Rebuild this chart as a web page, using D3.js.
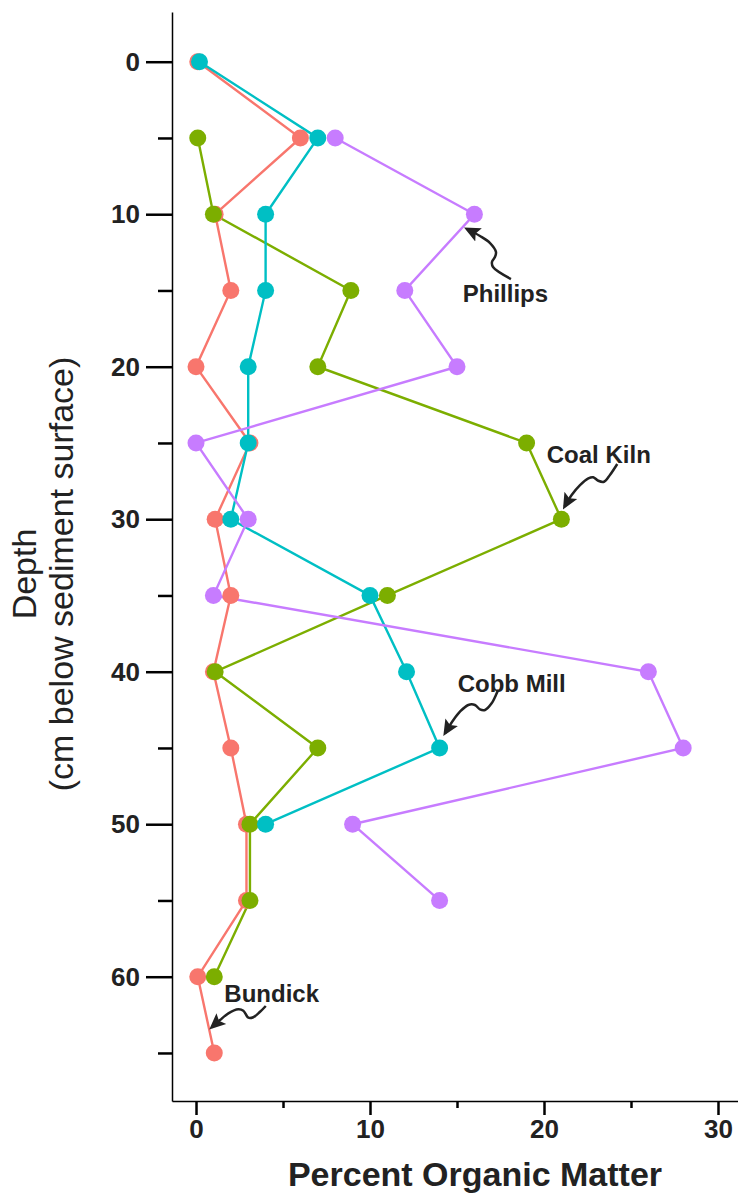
<!DOCTYPE html>
<html>
<head>
<meta charset="utf-8">
<script src="https://cdn.jsdelivr.net/npm/d3@7"></script>
<style>
  body { margin: 0; background: #fff; }
  svg text { font-family: "Liberation Sans", Arial, sans-serif; }
</style>
</head>
<body>
<div id="chart"></div>
<script>
// organic matter down the core, one pair of arrays per site
var sites = ["Bundick", "Coal Kiln", "Cobb Mill", "Phillips"];
var colours = ["#F8766D", "#7CAE00", "#00BFC4", "#C77CFF"];

var bundickDepth = [0, 5, 10, 15, 20, 25, 30, 35, 40, 45, 50, 55, 60, 65];
var bundickOM    = [0.1, 6, 1.1, 2, 0, 3.1, 1.1, 2, 1, 2, 2.9, 2.9, 0.1, 1.05];

var coalKilnDepth = [5, 10, 15, 20, 25, 30, 35, 40, 45, 50, 55, 60];
var coalKilnOM    = [0.1, 1, 8.9, 7, 19, 21, 11, 1.1, 7, 3.1, 3.1, 1.05];

var cobbMillDepth = [0, 5, 10, 15, 20, 25, 30, 35, 40, 45, 50];
var cobbMillOM    = [0.2, 7, 4, 4, 3, 3, 2, 10, 12.1, 14, 4];

var phillipsDepth = [5, 10, 15, 20, 25, 30, 35, 40, 45, 50, 55];
var phillipsOM    = [8, 16, 12, 15, 0, 3, 1, 26, 28, 9, 14];

var xTicks = [0, 10, 20, 30];
var xMinorTicks = [5, 15, 25];
var yTicks = [0, 10, 20, 30, 40, 50, 60];
var yMinorTicks = [5, 15, 25, 35, 45, 55, 65];

// site labels (percent, depth) and their curly arrows
var labelNames = ["Phillips", "Coal Kiln", "Cobb Mill", "Bundick"];
var labelPos = [[15.33, 15.74], [20.16, 26.3], [15.04, 41.31], [1.63, 61.64]];
var arrowPaths = [
  [[18.10, 14.25], [17.07, 13.46], [17.01, 13.13], [17.18, 12.81], [17.24, 12.48], [16.90, 11.89], [16.32, 11.43], [15.57, 10.97]],
  [[24.21, 26.38], [23.79, 27.10], [23.45, 27.54], [23.12, 27.48], [22.83, 27.25], [22.55, 27.32], [22.07, 27.76], [21.59, 28.41], [21.18, 29.18]],
  [[17.37, 41.20], [17.28, 41.42], [16.99, 42.07], [16.61, 42.51], [16.32, 42.47], [16.03, 42.18], [15.65, 42.18], [15.17, 42.62], [14.79, 43.17], [14.31, 44.04]],
  [[4.01, 61.92], [3.68, 62.30], [3.29, 62.66], [3.01, 62.69], [2.72, 62.23], [2.43, 62.14], [1.86, 62.40], [1.38, 62.84], [0.90, 63.32]]
];

var width = 738, height = 1195;
var plot = {left: 172, right: 738, top: 12, bottom: 1101};

var svg = d3.select("#chart").append("svg")
    .attr("width", width)
    .attr("height", height);

var x = d3.scaleLinear()
    .domain([-1.38, 31.15])
    .range([plot.left, plot.right]);

var y = d3.scaleLinear()
    .domain([-3.26, 68.15])
    .range([plot.top, plot.bottom]);

var series = [
  {name: sites[0], colour: colours[0], depth: bundickDepth, om: bundickOM},
  {name: sites[1], colour: colours[1], depth: coalKilnDepth, om: coalKilnOM},
  {name: sites[2], colour: colours[2], depth: cobbMillDepth, om: cobbMillOM},
  {name: sites[3], colour: colours[3], depth: phillipsDepth, om: phillipsOM}
];
series.forEach(s => {
  s.values = s.depth.map((d, i) => ({depth: d, om: s.om[i]}));
});

// axes
var yAxis = d3.axisLeft(y).tickValues(yTicks).tickSize(26).tickSizeOuter(0).tickPadding(6);
var yMinor = d3.axisLeft(y).tickValues(yMinorTicks).tickSize(14).tickFormat("");
var xAxis = d3.axisBottom(x).tickValues(xTicks).tickSize(14).tickSizeOuter(0).tickPadding(5);
var xMinor = d3.axisBottom(x).tickValues(xMinorTicks).tickSize(7).tickFormat("");

function styleAxis(g) {
  g.select(".domain").attr("stroke", "#000").attr("stroke-width", 1.5);
  g.selectAll(".tick line").attr("stroke", "#000").attr("stroke-width", 2.5);
  g.selectAll(".tick text")
    .attr("fill", "#222")
    .style("font-size", "26px")
    .style("font-weight", "bold");
}

svg.append("g")
    .attr("transform", `translate(${plot.left},0)`)
    .call(yAxis)
    .call(styleAxis);
svg.append("g")
    .attr("transform", `translate(${plot.left},0)`)
    .call(yMinor)
    .call(styleAxis)
    .select(".domain").remove();

svg.append("g")
    .attr("transform", `translate(0,${plot.bottom})`)
    .call(xAxis)
    .call(styleAxis);
svg.append("g")
    .attr("transform", `translate(0,${plot.bottom})`)
    .call(xMinor)
    .call(styleAxis)
    .select(".domain").remove();

// axis titles
svg.append("text")
    .attr("x", (x(-1.38) + x(31.15)) / 2 + 20)
    .attr("y", 1186)
    .attr("text-anchor", "middle")
    .attr("fill", "#222")
    .style("font-size", "34px")
    .style("font-weight", "bold")
    .text("Percent Organic Matter");

var yTitle = svg.append("text")
    .attr("transform", "translate(36,574) rotate(-90)")
    .attr("text-anchor", "middle")
    .attr("fill", "#222")
    .style("font-size", "34px");
yTitle.append("tspan").attr("x", 0).attr("dy", 0).text("Depth");
yTitle.append("tspan").attr("x", 0).attr("dy", 37).text("(cm below sediment surface)");

// lines first, then points
var line = d3.line()
    .x(d => x(d.om))
    .y(d => y(d.depth));

svg.selectAll("path.site")
    .data(series)
    .enter()
    .append("path")
    .attr("class", "site")
    .attr("d", d => line(d.values))
    .attr("fill", "none")
    .attr("stroke", d => d.colour)
    .attr("stroke-width", 2.4);

series.forEach(s => {
  svg.selectAll(null)
    .data(s.values)
    .enter()
    .append("circle")
    .attr("cx", d => x(d.om))
    .attr("cy", d => y(d.depth))
    .attr("r", 8.5)
    .attr("fill", s.colour);
});

// annotations
svg.append("defs").append("marker")
    .attr("id", "head")
    .attr("viewBox", "0 0 10 10")
    .attr("refX", 8)
    .attr("refY", 5)
    .attr("markerWidth", 6.5)
    .attr("markerHeight", 6.5)
    .attr("markerUnits", "strokeWidth")
    .attr("orient", "auto")
  .append("path")
    .attr("d", "M0,0.5 L10,5 L0,9.5 L2,5 Z")
    .attr("fill", "#222");

var arrowLine = d3.line()
    .x(d => x(d[0]))
    .y(d => y(d[1]))
    .curve(d3.curveCatmullRom);

svg.selectAll("path.arrow")
    .data(arrowPaths)
    .enter()
    .append("path")
    .attr("class", "arrow")
    .attr("d", d => arrowLine(d))
    .attr("fill", "none")
    .attr("stroke", "#222")
    .attr("stroke-width", 2.5)
    .attr("marker-end", "url(#head)");

svg.selectAll("text.site-label")
    .data(labelNames)
    .enter()
    .append("text")
    .attr("class", "site-label")
    .attr("x", (d, i) => x(labelPos[i][0]))
    .attr("y", (d, i) => y(labelPos[i][1]))
    .attr("fill", "#222")
    .style("font-size", "24px")
    .style("font-weight", "bold")
    .text(d => d);
</script>
</body>
</html>
